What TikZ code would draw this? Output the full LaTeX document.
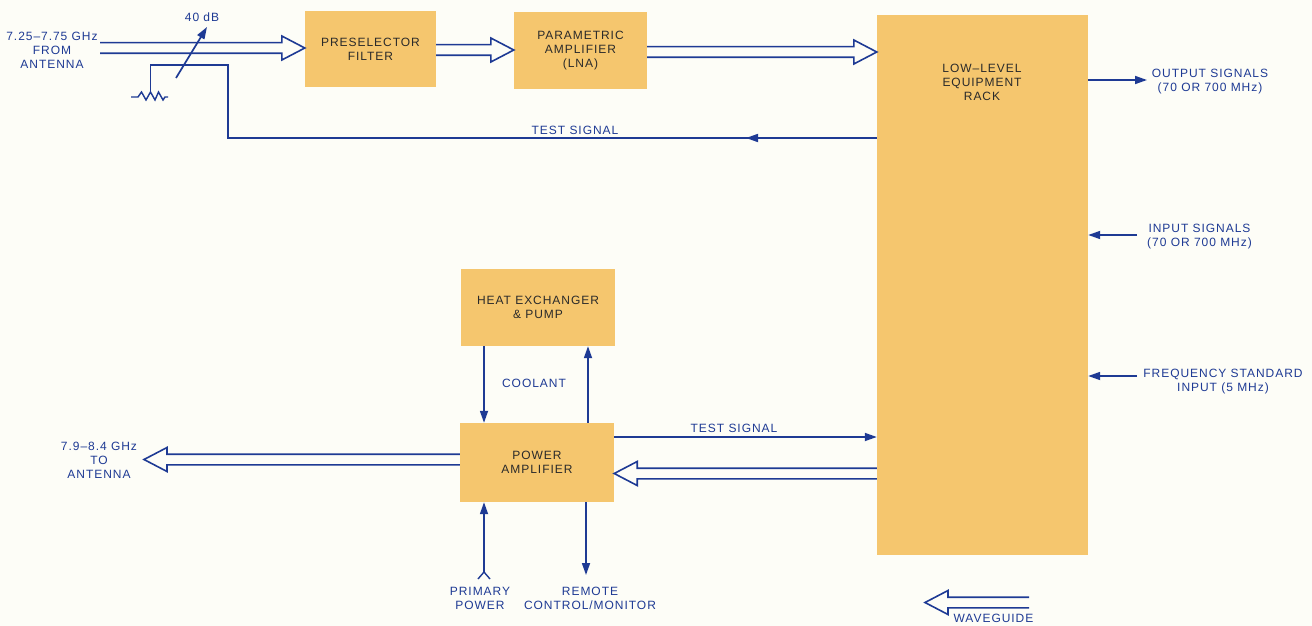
\documentclass[tikz,border=0pt]{standalone}
\usepackage{fontspec}
\setmainfont{Liberation Sans}[LetterSpace=8]
\usetikzlibrary{arrows.meta,calc}
\definecolor{ink}{HTML}{1E3A94}
\definecolor{boxfill}{HTML}{F5C66E}
\definecolor{paper}{HTML}{FDFDF7}
\definecolor{boxtext}{HTML}{2A2A2A}
\newcommand\lblfont{\fontsize{12}{14}\selectfont}
\newcommand\dblR[2]{%
  \draw[dbl] ($(#1)+(0,-5.3)$) -- ($(#2)+(-23,-5.3)$) -- ($(#2)+(-23,-12)$) -- (#2)
    -- ($(#2)+(-23,12)$) -- ($(#2)+(-23,5.3)$) -- ($(#1)+(0,5.3)$);}
\newcommand\dblL[2]{%
  \draw[dbl] ($(#1)+(0,-5.3)$) -- ($(#2)+(23,-5.3)$) -- ($(#2)+(23,-12)$) -- (#2)
    -- ($(#2)+(23,12)$) -- ($(#2)+(23,5.3)$) -- ($(#1)+(0,5.3)$);}
\begin{document}
\begin{tikzpicture}[x=1pt,y=-1pt,
  box/.style={fill=boxfill, draw=none, inner sep=0pt, align=center, text=boxtext, font=\lblfont},
  lbl/.style={text=ink, align=center, inner sep=0pt, font=\lblfont},
  sig/.style={draw=ink, line width=1.7pt},
  tip/.style={-{Triangle[length=12pt,width=8pt]}},
  dbl/.style={draw=ink, line width=1.6pt, line join=miter}]
\fill[paper] (0,0) rectangle (1312,626);
\useasboundingbox (0,0) rectangle (1312,626);

% boxes
\node[box, minimum width=131pt, minimum height=76pt] (pre) at (370.5,49) {PRESELECTOR\\FILTER};
\node[box, minimum width=133pt, minimum height=77pt] (param) at (580.5,50.5) {PARAMETRIC\\AMPLIFIER\\(LNA)};
\node[box, minimum width=211pt, minimum height=540pt] (lle) at (982.5,285) {};
\node[lbl, text=boxtext] (lletxt) at (982,82) {LOW–LEVEL\\EQUIPMENT\\RACK};
\node[box, minimum width=154pt, minimum height=77pt] (hx) at (538,307.5) {HEAT EXCHANGER\\\& PUMP};
\node[box, minimum width=154pt, minimum height=79pt] (pa) at (537,462.5) {POWER\\AMPLIFIER};

% labels
\node[lbl] (antin) at (52,50) {7.25–7.75 GHz\\FROM\\ANTENNA};
\node[lbl] (db) at (202,17) {40 dB};
\node[lbl] (test1) at (575,130) {TEST SIGNAL};
\node[lbl] (outl) at (1210,81.5) {OUTPUT SIGNALS\\(70 OR 700 MHz)};
\node[lbl] (inl) at (1199.5,236.5) {INPUT SIGNALS\\(70 OR 700 MHz)};
\node[lbl] (fsl) at (1223,381.5) {FREQUENCY STANDARD\\INPUT (5 MHz)};
\node[lbl] (cool) at (534,383) {COOLANT};
\node[lbl] (test2) at (734,428) {TEST SIGNAL};
\node[lbl] (antout) at (99,460) {7.9–8.4 GHz\\TO\\ANTENNA};
\node[lbl] (prim) at (480,598.5) {PRIMARY\\POWER};
\node[lbl] (rem) at (590,598.5) {REMOTE\\CONTROL/MONITOR};
\node[lbl] (wg) at (993.5,618) {WAVEGUIDE};

% coordinates
\coordinate (antS) at (100,48);
\coordinate (preIn) at (pre.west |- 0,48);
\coordinate (preOut) at (pre.east |- 0,50);
\coordinate (parIn) at (param.west |- 0,50);
\coordinate (parOut) at (param.east |- 0,52);
\coordinate (lleIn) at (lle.west |- 0,52);
\coordinate (lleOut) at (lle.west |- 0,473.5);
\coordinate (paIn) at (pa.east |- 0,473.5);
\coordinate (paOut) at (pa.west |- 0,459.5);
\coordinate (antE) at (144,459.5);
\coordinate (wgS) at (1029,602.5);
\coordinate (wgE) at (925,602.5);

% hollow double arrows
\dblR{antS}{preIn}
\dblR{preOut}{parIn}
\dblR{parOut}{lleIn}
\dblL{lleOut}{paIn}
\dblL{paOut}{antE}
\dblL{wgS}{wgE}

% right side signals
\coordinate (outE) at (1147,80);
\coordinate (inS) at (1137,235);
\coordinate (fsS) at (1137,376);
\draw[sig,tip] (lle.east |- outE) -- (outE);
\draw[sig,tip] (inS) -- (lle.east |- inS);
\draw[sig,tip] (fsS) -- (lle.east |- fsS);

% test signal (top) to attenuator
\coordinate (rtop) at (150.5,92);
\draw[sig, line join=miter] (lle.west |- 0,138) -- (228,138) -- (228,65) -- (150.5,65) -- (rtop);
\draw[sig,tip] (lle.west |- 0,138) -- (746,138);
% resistor
\draw[sig, line width=1.4pt, line join=miter] (131,97) -- (138,97) -- (141.5,92) -- (146,100) -- (rtop) -- (155,100) -- (158.5,92) -- (163,100) -- (165,97) -- (168,97);
% variable attenuator arrow
\coordinate (attA) at (176,78);
\coordinate (attB) at (207,27);
\draw[sig,tip] (attA) -- (attB);

% power amplifier area
\draw[sig,tip] (hx.south -| 484,0) -- (pa.north -| 484,0);
\draw[sig,tip] (pa.north -| 588,0) -- (hx.south -| 588,0);
\draw[sig,tip] (pa.east |- 0,437) -- (lle.west |- 0,437);
\coordinate (pp) at (484,572);
\draw[sig,tip] (pp) -- (pa.south -| pp);
\draw[sig, line width=1.4pt] (478,579) -- (pp) -- (490,579);
\coordinate (rc) at (586,575);
\draw[sig,tip] (pa.south -| rc) -- (rc);
\end{tikzpicture}
\end{document}
